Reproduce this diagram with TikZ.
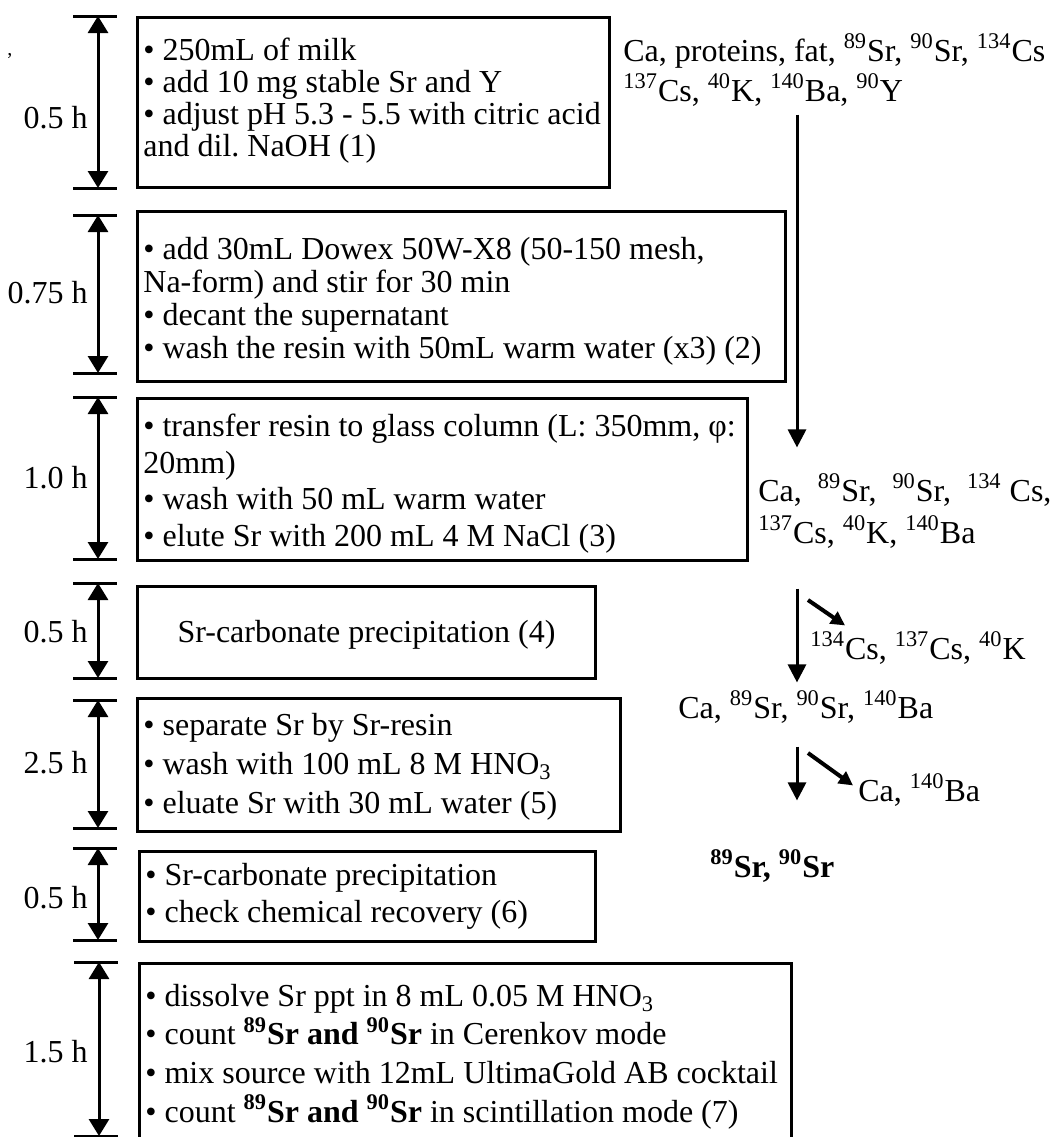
\documentclass[tikz,border=0pt]{standalone}
\usepackage{fontspec}
\setmainfont{Liberation Serif}
\usetikzlibrary{arrows.meta, calc, positioning}

\begin{document}
\begin{tikzpicture}[x=0.5pt, y=-0.5pt,
  every node/.style={font=\fontsize{16}{16}\selectfont, inner sep=0pt},
  stepbox/.style={draw, line width=1.5pt, rectangle, anchor=north west},
  steptext/.style={anchor=west, align=left},
  hours/.style={anchor=east},
  nuclide/.style={anchor=west, align=left},
  tickline/.style={line width=1.5pt},
  timebar/.style={line width=1.5pt, {Triangle[length=8.5pt,width=10pt]}-{Triangle[length=8.5pt,width=10pt]}},
  flow/.style={line width=1.5pt, -{Triangle[length=9pt,width=9pt]}},
  side/.style={line width=2pt, -{Triangle[length=7pt,width=7pt]}}]
\useasboundingbox (0,0) rectangle (1060,1137);
\clip (0,0) rectangle (1060,1137);
\node[font=\fontsize{10}{10}\selectfont] (comma) at (10,56) {,};
% step 1
\coordinate (t1) at (98,16);
\coordinate (b1) at (98,188);
\draw[tickline] ($(t1)+(-25,0)$) -- ($(t1)+(19,0)$);
\draw[tickline] ($(b1)+(-25,0)$) -- ($(b1)+(19,0)$);
\draw[timebar] (t1) -- (b1);
\node[hours] (h1) at (88,118) {0.5 h};
\node[stepbox, minimum width=236pt, minimum height=85pt] (box1) at (136,16) {};
\node[steptext, font=\fontsize{16}{16}\selectfont] (txt1) at ([xshift=3.5pt,yshift=1pt]box1.west)
  {• 250mL of milk\\ • add 10 mg stable Sr and Y\\ • adjust pH 5.3 - 5.5 with citric acid\\ and dil.\ NaOH (1)};
% step 2
\coordinate (t2) at (98,215);
\coordinate (b2) at (98,373);
\draw[tickline] ($(t2)+(-25,0)$) -- ($(t2)+(19,0)$);
\draw[tickline] ($(b2)+(-25,0)$) -- ($(b2)+(19,0)$);
\draw[timebar] (t2) -- (b2);
\node[hours] (h2) at (88,293) {0.75 h};
\node[stepbox, minimum width=324pt, minimum height=85pt] (box2) at (136,210) {};
\node[steptext, font=\fontsize{16}{16.5}\selectfont] (txt2) at ([xshift=3.5pt,yshift=-2.5pt]box2.west)
  {• add 30mL Dowex 50W-X8 (50-150 mesh,\\ Na-form) and stir for 30 min\\ • decant the supernatant\\ • wash the resin with 50mL warm water (x3) (2)};
% step 3
\coordinate (t3) at (98,397);
\coordinate (b3) at (98,559);
\draw[tickline] ($(t3)+(-25,0)$) -- ($(t3)+(19,0)$);
\draw[tickline] ($(b3)+(-25,0)$) -- ($(b3)+(19,0)$);
\draw[timebar] (t3) -- (b3);
\node[hours] (h3) at (88,478) {1.0 h};
\node[stepbox, minimum width=305pt, minimum height=81pt] (box3) at (136,397) {};
\node[steptext, font=\fontsize{16}{18.3}\selectfont] (txt3) at ([xshift=3.5pt,yshift=-2pt]box3.west)
  {• transfer resin to glass column (L: 350mm, φ:\\ 20mm)\\ • wash with 50 mL warm water\\ • elute Sr with 200 mL 4 M NaCl (3)};
% step 4
\coordinate (t4) at (98,583);
\coordinate (b4) at (98,678);
\draw[tickline] ($(t4)+(-25,0)$) -- ($(t4)+(19,0)$);
\draw[tickline] ($(b4)+(-25,0)$) -- ($(b4)+(19,0)$);
\draw[timebar] (t4) -- (b4);
\node[hours] (h4) at (88,632) {0.5 h};
\node[stepbox, minimum width=229pt, minimum height=46pt] (box4) at (136,585) {};
\node (txt4) at ([yshift=-1pt]box4.center) {Sr-carbonate precipitation (4)};
% step 5
\coordinate (t5) at (98,700);
\coordinate (b5) at (98,828);
\draw[tickline] ($(t5)+(-25,0)$) -- ($(t5)+(19,0)$);
\draw[tickline] ($(b5)+(-25,0)$) -- ($(b5)+(19,0)$);
\draw[timebar] (t5) -- (b5);
\node[hours] (h5) at (88,763) {2.5 h};
\node[stepbox, minimum width=241.5pt, minimum height=66.5pt] (box5) at (136,697) {};
\node[steptext, font=\fontsize{16}{19.5}\selectfont] (txt5) at ([xshift=3.5pt,yshift=-1pt]box5.west)
  {• separate Sr by Sr-resin\\ • wash with 100 mL 8 M HNO\textsubscript{3}\\ • eluate Sr with 30 mL water (5)};
% step 6
\coordinate (t6) at (98,848);
\coordinate (b6) at (98,940);
\draw[tickline] ($(t6)+(-25,0)$) -- ($(t6)+(19,0)$);
\draw[tickline] ($(b6)+(-25,0)$) -- ($(b6)+(19,0)$);
\draw[timebar] (t6) -- (b6);
\node[hours] (h6) at (88,898) {0.5 h};
\node[stepbox, minimum width=228pt, minimum height=45pt] (box6) at (138,850) {};
\node[steptext, font=\fontsize{16}{18.5}\selectfont] (txt6) at ([xshift=3.5pt]box6.west)
  {• Sr-carbonate precipitation\\ • check chemical recovery (6)};
% step 7
\coordinate (t7) at (99,962);
\coordinate (b7) at (99,1136);
\draw[tickline] ($(t7)+(-25,0)$) -- ($(t7)+(19,0)$);
\draw[tickline] ($(b7)+(-25,0)$) -- ($(b7)+(19,0)$);
\draw[timebar] (t7) -- (b7);
\node[hours] (h7) at (88,1052) {1.5 h};
\node[stepbox, minimum width=326pt, minimum height=95pt] (box7) at (138,962) {};
\node[steptext, font=\fontsize{16}{19.3}\selectfont] (txt7) at ([xshift=3.5pt,yshift=1pt]box7.west)
  {• dissolve Sr ppt in 8 mL 0.05 M HNO\textsubscript{3}\\
   • count \textbf{\textsuperscript{89}Sr and \textsuperscript{90}Sr} in Cerenkov mode\\
   • mix source with 12mL UltimaGold AB cocktail\\
   • count \textbf{\textsuperscript{89}Sr and \textsuperscript{90}Sr} in scintillation mode (7)};
% nuclides
\coordinate (col) at (797,0);
\node[nuclide, font=\fontsize{16}{20}\selectfont] (milk) at (623,70)
  {Ca, proteins, fat, \textsuperscript{89}Sr, \textsuperscript{90}Sr, \textsuperscript{134}Cs\\
   \textsuperscript{137}Cs, \textsuperscript{40}K, \textsuperscript{140}Ba, \textsuperscript{90}Y};
\node[nuclide, font=\fontsize{16}{21}\selectfont] (eluate) at (758,511)
  {Ca, \ \textsuperscript{89}Sr, \ \textsuperscript{90}Sr, \ \textsuperscript{134} Cs,\\
   \textsuperscript{137}Cs, \textsuperscript{40}K, \textsuperscript{140}Ba};
\node[nuclide] (alkali) at (810,648) {\textsuperscript{134}Cs, \textsuperscript{137}Cs, \textsuperscript{40}K};
\node[nuclide] (srba) at (678,707) {Ca, \textsuperscript{89}Sr, \textsuperscript{90}Sr, \textsuperscript{140}Ba};
\node[nuclide] (caba) at (858,790) {Ca, \textsuperscript{140}Ba};
\node[nuclide, font=\fontsize{16}{16}\selectfont\bfseries] (pure) at (710,866) {\textsuperscript{89}Sr, \textsuperscript{90}Sr};
\draw[flow, shorten <=4pt, shorten >=13pt] (milk.south -| col) -- (eluate.north -| col);
\draw[flow, shorten <=20pt, shorten >=4pt] (eluate.south -| col) -- (srba.north -| col);
\draw[flow, shorten <=11.5pt, shorten >=24.5pt] (srba.south -| col) -- (pure.north -| col);
\coordinate (d1) at (808,600);
\coordinate (d2) at (808,753);
\draw[side] (d1) -- ($(alkali.north west)+(35,-6)$);
\draw[side] (d2) -- ($(caba.north west)+(-5,12)$);
\end{tikzpicture}
\end{document}
